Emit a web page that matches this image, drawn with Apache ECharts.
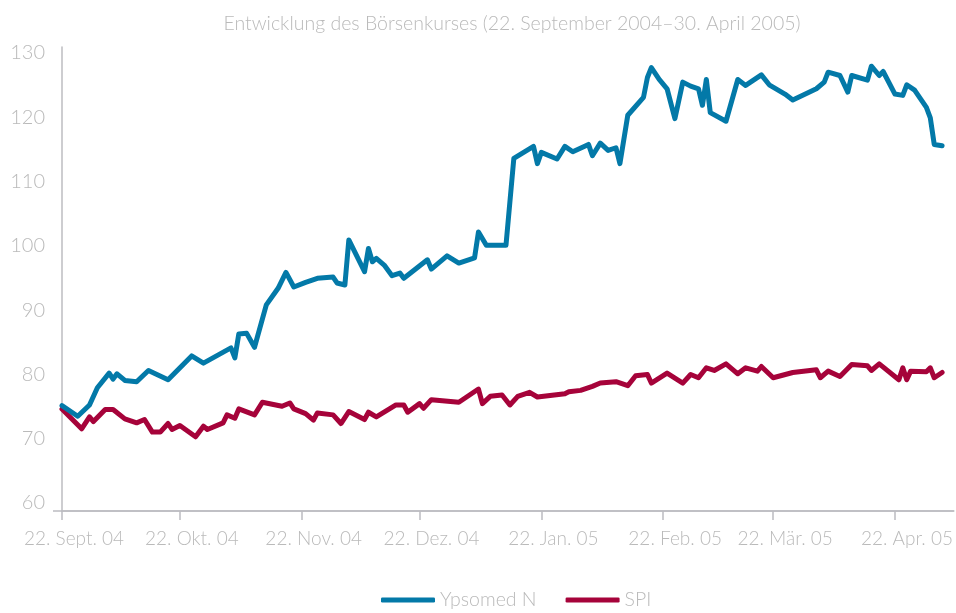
<!DOCTYPE html>
<html>
<head>
<meta charset="utf-8">
<script src="https://cdn.jsdelivr.net/npm/echarts@6/dist/echarts.min.js"></script>
<style>
html,body{margin:0;padding:0;background:#fff;}
#chart{width:956px;height:613px;}
</style>
</head>
<body>
<div id="chart"></div>
<script>
// ---- data ----
var titleText = 'Entwicklung des Börsenkurses (22. September 2004–30. April 2005)';
var seriesNames = ['Ypsomed N', 'SPI'];

var tickDates = ['2004-09-22','2004-10-22','2004-11-22','2004-12-22','2005-01-22','2005-02-22','2005-03-22','2005-04-22'];
var tickLabels = ['22. Sept. 04','22. Okt. 04','22. Nov. 04','22. Dez. 04','22. Jan. 05','22. Feb. 05','22. Mär. 05','22. Apr. 05'];
var yTickValues = [60, 70, 80, 90, 100, 110, 120, 130];

var ypsoDates = ['2004-09-22','2004-09-26','2004-09-29','2004-10-01','2004-10-04','2004-10-05','2004-10-06','2004-10-08','2004-10-11','2004-10-14',
  '2004-10-19','2004-10-25','2004-10-28','2004-11-04','2004-11-05','2004-11-06','2004-11-08','2004-11-10','2004-11-13','2004-11-16',
  '2004-11-18','2004-11-20','2004-11-23','2004-11-26','2004-11-30','2004-12-01','2004-12-03','2004-12-04','2004-12-08','2004-12-09',
  '2004-12-10','2004-12-11','2004-12-13','2004-12-15','2004-12-17','2004-12-18','2004-12-24','2004-12-25','2004-12-29','2005-01-01',
  '2005-01-05','2005-01-06','2005-01-08','2005-01-13','2005-01-15','2005-01-20','2005-01-21','2005-01-22','2005-01-26','2005-01-28',
  '2005-01-30','2005-02-03','2005-02-04','2005-02-06','2005-02-08','2005-02-10','2005-02-11','2005-02-13','2005-02-17','2005-02-18',
  '2005-02-19','2005-02-21','2005-02-23','2005-02-25','2005-02-27','2005-03-01','2005-03-03','2005-03-04','2005-03-05','2005-03-06',
  '2005-03-10','2005-03-13','2005-03-15','2005-03-19','2005-03-21','2005-03-25','2005-03-27','2005-04-02','2005-04-04','2005-04-05',
  '2005-04-08','2005-04-10','2005-04-11','2005-04-15','2005-04-16','2005-04-18','2005-04-19','2005-04-22','2005-04-24','2005-04-25',
  '2005-04-27','2005-04-30','2005-05-01','2005-05-02','2005-05-04'];
var ypsoValues = [75.9,74.3,76.0,78.6,80.8,79.9,80.7,79.7,79.5,81.2,
  79.8,83.4,82.3,84.6,83.1,86.7,86.8,84.7,91.1,93.6,
  96.0,93.8,94.5,95.1,95.3,94.4,94.1,100.9,96.1,99.6,
  97.6,98.1,97.1,95.5,95.9,95.1,97.9,96.5,98.5,97.4,
  98.2,102.1,100.1,100.1,113.2,115.0,112.4,114.1,113.1,115.0,
  114.2,115.3,113.6,115.5,114.4,114.8,112.4,119.7,122.4,125.4,
  126.9,125.1,123.7,119.2,124.7,124.1,123.7,121.2,125.1,120.1,
  118.8,125.1,124.2,125.8,124.3,122.9,122.0,123.7,124.7,126.2,
  125.7,123.2,125.7,125.0,127.1,125.7,126.3,122.9,122.7,124.3,
  123.5,120.9,119.3,115.3,115.1];

var spiDates = ['2004-09-22','2004-09-27','2004-09-29','2004-09-30','2004-10-03','2004-10-05','2004-10-08','2004-10-11','2004-10-13','2004-10-15',
  '2004-10-17','2004-10-19','2004-10-20','2004-10-22','2004-10-26','2004-10-28','2004-10-29','2004-11-02','2004-11-03','2004-11-05',
  '2004-11-06','2004-11-10','2004-11-12','2004-11-17','2004-11-19','2004-11-20','2004-11-23','2004-11-25','2004-11-26','2004-11-30',
  '2004-12-02','2004-12-04','2004-12-08','2004-12-09','2004-12-11','2004-12-16','2004-12-18','2004-12-19','2004-12-22','2004-12-23',
  '2004-12-25','2005-01-01','2005-01-06','2005-01-07','2005-01-09','2005-01-12','2005-01-14','2005-01-16','2005-01-19','2005-01-21',
  '2005-01-28','2005-01-29','2005-02-01','2005-02-04','2005-02-06','2005-02-10','2005-02-13','2005-02-15','2005-02-18','2005-02-19',
  '2005-02-23','2005-02-27','2005-03-01','2005-03-03','2005-03-05','2005-03-07','2005-03-10','2005-03-13','2005-03-15','2005-03-18',
  '2005-03-19','2005-03-22','2005-03-27','2005-04-02','2005-04-03','2005-04-05','2005-04-08','2005-04-11','2005-04-15','2005-04-16',
  '2005-04-18','2005-04-23','2005-04-24','2005-04-25','2005-04-26','2005-04-30','2005-05-01','2005-05-02','2005-05-04'];
var spiValues = [75.4,72.4,74.2,73.5,75.3,75.3,73.9,73.3,73.8,71.9,
  71.9,73.2,72.3,72.9,71.2,72.8,72.3,73.3,74.5,74.0,
  75.4,74.5,76.4,75.8,76.3,75.4,74.7,73.7,74.8,74.5,
  73.2,75.0,73.8,74.9,74.2,76.0,76.0,74.9,76.2,75.5,
  76.8,76.4,78.4,76.2,77.3,77.5,76.0,77.3,77.9,77.2,
  77.7,78.0,78.2,78.8,79.3,79.5,78.9,80.4,80.6,79.3,
  80.8,79.3,80.6,80.1,81.6,81.2,82.2,80.7,81.6,81.1,
  81.8,80.1,80.9,81.3,80.1,81.1,80.3,82.1,81.9,81.2,
  82.2,79.8,81.6,79.8,81.1,81.0,81.6,80.1,80.9];

// ---- build ----
function parseDate(s){ var p = s.split('-'); return Date.UTC(+p[0], +p[1]-1, +p[2]); }
function pairs(ds, vs){ return ds.map(function(d,i){ return [parseDate(d), vs[i]]; }); }
var tickTimes = tickDates.map(parseDate);

var gray = '#bcbcc1';
var textGray = '#bababa';
var font = 'Lato';

var chart = echarts.init(document.getElementById('chart'), null, {renderer:'canvas'});
chart.setOption({
  animation: false,
  backgroundColor: '#ffffff',
  title: {
    text: titleText,
    left: 507, top: 9, textAlign: 'center',
    textStyle: {color: textGray, fontSize: 19.5, fontWeight: 300, fontFamily: font}
  },
  legend: {
    left: 376, top: 585,
    icon: 'roundRect', itemWidth: 54, itemHeight: 5, itemGap: 29,
    data: seriesNames,
    textStyle: {color: textGray, fontSize: 19.5, fontWeight: 300, fontFamily: font}
  },
  grid: {left: 62, right: 2, top: 47, bottom: 102, containLabel: false},
  xAxis: {
    type: 'value',
    min: parseDate('2004-09-22'),
    max: parseDate('2005-05-07'),
    axisLine: {show: true, lineStyle: {color: gray, width: 1.5}},
    axisTick: {show: true, customValues: tickTimes, length: 9, lineStyle: {color: gray, width: 1.5}},
    splitLine: {show: false},
    axisLabel: {
      customValues: tickTimes,
      color: textGray, fontSize: 19, fontWeight: 300, fontFamily: font,
      margin: 18, padding: [0,0,0,24],
      formatter: function(v){ var i = tickTimes.indexOf(v); return i >= 0 ? tickLabels[i] : ''; }
    }
  },
  yAxis: [{
    type: 'value', min: 60, max: 130, interval: 10,
    axisLine: {show: true, lineStyle: {color: gray, width: 1.5}},
    axisTick: {show: true, customValues: [60], length: 9, lineStyle: {color: gray, width: 1.5}},
    axisLabel: {show: false},
    splitLine: {show: true, lineStyle: {color: gray, width: 1.5}}
  }, {
    type: 'value', position: 'left', min: 58.76, max: 130.93,
    axisLine: {show: false}, axisTick: {show: false}, splitLine: {show: false},
    axisLabel: {
      customValues: yTickValues,
      color: textGray, fontSize: 20, fontWeight: 300, fontFamily: font, margin: 17
    }
  }],
  series: [{
    name: seriesNames[0], type: 'line', yAxisIndex: 0,
    data: pairs(ypsoDates, ypsoValues),
    showSymbol: false, symbol: 'none',
    lineStyle: {color: '#0379a8', width: 5, cap: 'round', join: 'round'},
    itemStyle: {color: '#0379a8'},
    z: 3
  }, {
    name: seriesNames[1], type: 'line', yAxisIndex: 0,
    data: pairs(spiDates, spiValues),
    showSymbol: false, symbol: 'none',
    lineStyle: {color: '#a6033a', width: 5, cap: 'round', join: 'round'},
    itemStyle: {color: '#a6033a'},
    z: 2
  }]
});
</script>
</body>
</html>
